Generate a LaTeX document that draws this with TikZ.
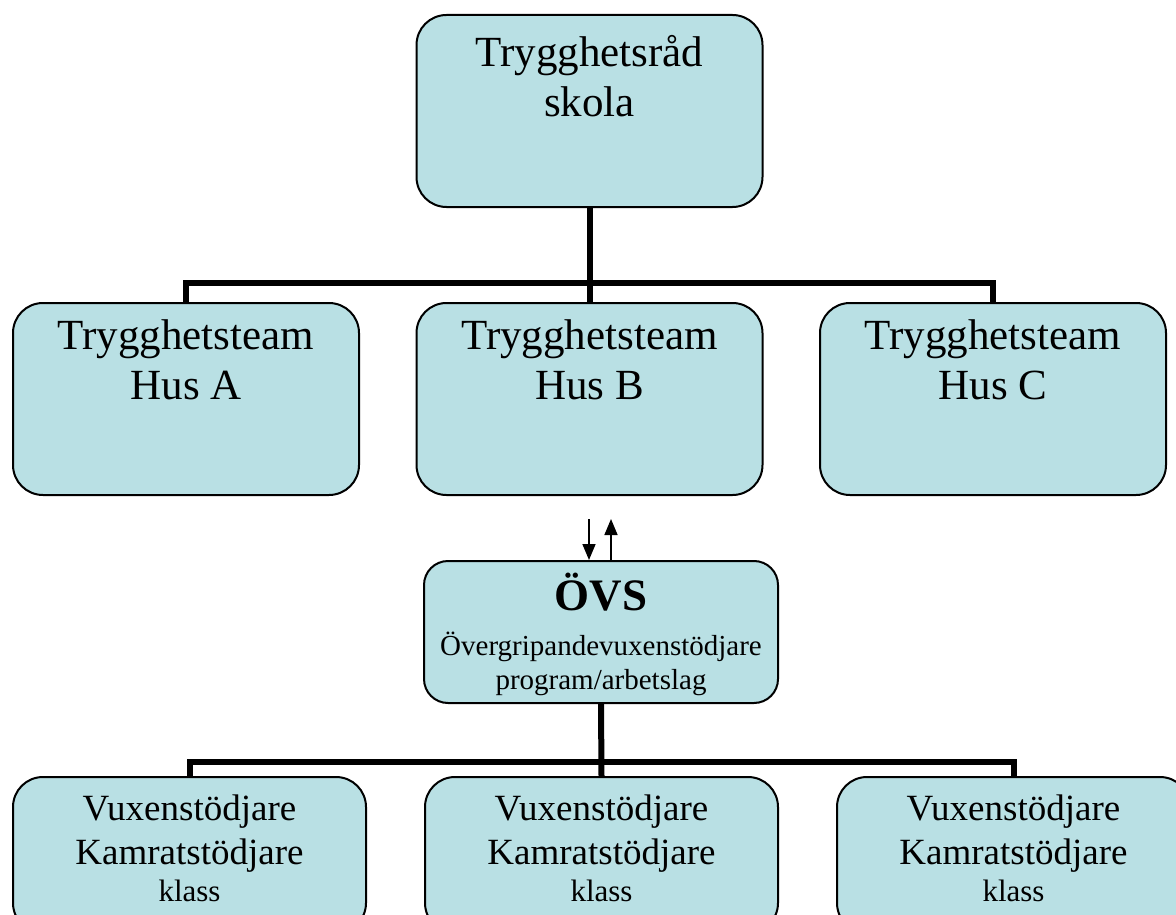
\documentclass[tikz,border=0pt]{standalone}
\usepackage{fontspec}
\setmainfont{Liberation Serif}
\usetikzlibrary{arrows.meta}

\definecolor{boxfill}{RGB}{185,224,228}

\tikzset{
	unit/.style={draw=black, line width=2pt, fill=boxfill, rounded corners=30pt, inner sep=0pt},
	bigunit/.style={unit, minimum width=346pt, minimum height=192pt},
	smallunit/.style={unit, minimum width=353pt, minimum height=156pt},
	bigtext/.style={anchor=north, inner sep=0pt, align=center, font=\fontsize{43}{50}\selectfont},
	smalltext/.style={anchor=north, inner sep=0pt, align=center, font=\fontsize{37}{44}\selectfont},
	tree/.style={line width=6pt},
	flow/.style={line width=1.6pt, -{Triangle[length=16pt,width=13pt]}}
}

\begin{document}
\begin{tikzpicture}[x=1pt, y=-1pt]
		\useasboundingbox (0,0) rectangle (1176,915);
		\clip (0,0) rectangle (1176,915);
		
		% top level
		\node[bigunit] (rad) at (589.5,111) {};
		\node[bigtext] (radtext) at (589.5,35) {Trygghetsråd\\skola};
		
		% houses
		\node[bigunit] (husA) at (186,399) {};
		\node[bigunit] (husB) at (589.5,399) {};
		\node[bigunit] (husC) at (993,399) {};
		\node[bigtext] (husAtext) at (186,319) {Trygghetsteam\\Hus A};
		\node[bigtext] (husBtext) at (589.5,319) {Trygghetsteam\\Hus B};
		\node[bigtext] (husCtext) at (993,319) {Trygghetsteam\\Hus C};
		
		\coordinate (treetop) at (589.5,283);
		\draw[tree] (rad.south) -- (husB.north);
		\draw[tree] (husA.north) -- (husA.north |- treetop) -- (husC.north |- treetop) -- (husC.north);
		
		% ÖVS
		\node[unit, minimum width=354pt, minimum height=142pt, rounded corners=24pt] (ovs) at (601,632) {};
		\node[anchor=base, inner sep=0pt, font=\fontsize{45}{45}\selectfont\bfseries] (ovstitle) at (601,610) {ÖVS};
		\node[anchor=north, inner sep=0pt, align=center, font=\fontsize{29}{34}\selectfont] (ovstext) at (601,632) {Övergripandevuxenstödjare\\program/arbetslag};
		
		\coordinate (downfrom) at (589,519);
		\coordinate (upto) at (611,519);
		\draw[flow] (downfrom) -- (downfrom |- ovs.north);
		\draw[flow] (upto |- ovs.north) -- (upto);
		
		% classes
		\node[smallunit] (klassA) at (189.5,855) {};
		\node[smallunit] (klassB) at (601.5,855) {};
		\node[smallunit] (klassC) at (1013.5,855) {};
		\node[smalltext] (klassAtext) at (189.5,795) {Vuxenstödjare\\Kamratstödjare\\[-7pt]{\fontsize{31}{37}\selectfont klass}};
		\node[smalltext] (klassBtext) at (601.5,795) {Vuxenstödjare\\Kamratstödjare\\[-7pt]{\fontsize{31}{37}\selectfont klass}};
		\node[smalltext] (klassCtext) at (1013.5,795) {Vuxenstödjare\\Kamratstödjare\\[-7pt]{\fontsize{31}{37}\selectfont klass}};
		
		\coordinate (treelow) at (601.5,762);
		\draw[tree] (ovs.south) -- (klassB.north);
		\draw[tree] (klassA.north) -- (klassA.north |- treelow) -- (klassC.north |- treelow) -- (klassC.north);
	\end{tikzpicture}
\end{document}
